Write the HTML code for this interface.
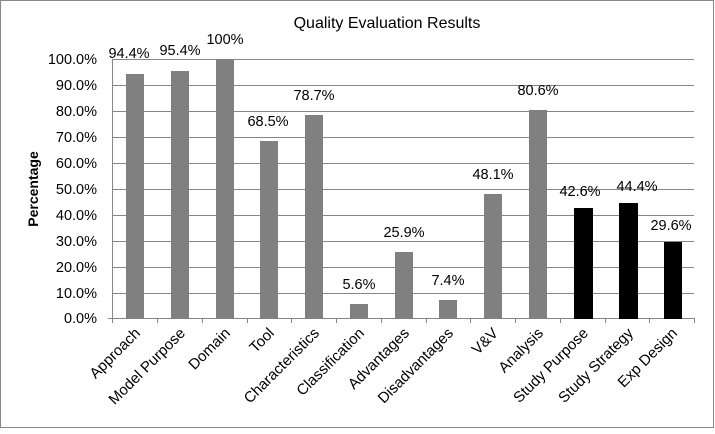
<!DOCTYPE html>
<html><head><style>body{margin:0;background:#fff}</style></head><body>
<svg width="715" height="429" xmlns="http://www.w3.org/2000/svg" font-family="Liberation Sans, sans-serif">
<rect x="0.5" y="0.5" width="713" height="427" fill="#fff" stroke="#888"/>
<text x="387" y="28" font-size="16" text-anchor="middle" fill="#000">Quality Evaluation Results</text>
<g stroke="#868686" stroke-width="1">
<line x1="112" y1="59.5" x2="694" y2="59.5"/>
<line x1="112" y1="85.5" x2="694" y2="85.5"/>
<line x1="112" y1="111.5" x2="694" y2="111.5"/>
<line x1="112" y1="137.5" x2="694" y2="137.5"/>
<line x1="112" y1="163.5" x2="694" y2="163.5"/>
<line x1="112" y1="189.5" x2="694" y2="189.5"/>
<line x1="112" y1="215.5" x2="694" y2="215.5"/>
<line x1="112" y1="241.5" x2="694" y2="241.5"/>
<line x1="112" y1="267.5" x2="694" y2="267.5"/>
<line x1="112" y1="293.5" x2="694" y2="293.5"/>
<line x1="112" y1="318.5" x2="694" y2="318.5"/>
<line x1="112.5" y1="59" x2="112.5" y2="323"/>
<line x1="108" y1="318.5" x2="112" y2="318.5"/>
</g>
<g stroke="#868686">
<line x1="157.5" y1="318" x2="157.5" y2="323"/><line x1="202.5" y1="318" x2="202.5" y2="323"/><line x1="247.5" y1="318" x2="247.5" y2="323"/><line x1="291.5" y1="318" x2="291.5" y2="323"/><line x1="336.5" y1="318" x2="336.5" y2="323"/><line x1="381.5" y1="318" x2="381.5" y2="323"/><line x1="426.5" y1="318" x2="426.5" y2="323"/><line x1="470.5" y1="318" x2="470.5" y2="323"/><line x1="515.5" y1="318" x2="515.5" y2="323"/><line x1="560.5" y1="318" x2="560.5" y2="323"/><line x1="605.5" y1="318" x2="605.5" y2="323"/><line x1="649.5" y1="318" x2="649.5" y2="323"/><line x1="694.5" y1="318" x2="694.5" y2="323"/>
</g>
<g font-size="14.5" text-anchor="end" fill="#000">
<text x="97" y="64">100.0%</text><text x="97" y="90">90.0%</text><text x="97" y="116">80.0%</text><text x="97" y="142">70.0%</text><text x="97" y="168">60.0%</text><text x="97" y="194">50.0%</text><text x="97" y="220">40.0%</text><text x="97" y="246">30.0%</text><text x="97" y="272">20.0%</text><text x="97" y="298">10.0%</text><text x="97" y="323">0.0%</text>
</g>
<text transform="translate(38,189) rotate(-90)" font-size="14" font-weight="bold" text-anchor="middle">Percentage</text>
<g fill="#808080">
<rect x="126" y="74" width="18" height="245"/>
<rect x="171" y="71" width="18" height="248"/>
<rect x="216" y="59" width="18" height="260"/>
<rect x="260" y="141" width="18" height="178"/>
<rect x="305" y="115" width="18" height="204"/>
<rect x="350" y="304" width="18" height="15"/>
<rect x="395" y="252" width="18" height="67"/>
<rect x="439" y="300" width="18" height="19"/>
<rect x="484" y="194" width="18" height="125"/>
<rect x="529" y="110" width="18" height="209"/>
</g>
<g fill="#000">
<rect x="574" y="208" width="19" height="111"/>
<rect x="619" y="203" width="19" height="116"/>
<rect x="664" y="242" width="18" height="77"/>
</g>
<g font-size="14.5" text-anchor="middle" fill="#000">
<text x="129" y="58">94.4%</text><text x="180" y="55">95.4%</text><text x="225" y="44">100%</text><text x="268" y="126">68.5%</text><text x="314" y="100">78.7%</text><text x="359" y="289">5.6%</text><text x="404" y="237">25.9%</text><text x="448" y="285">7.4%</text><text x="493" y="179">48.1%</text><text x="538" y="95">80.6%</text><text x="580" y="196">42.6%</text><text x="637" y="191">44.4%</text><text x="671" y="230">29.6%</text>
</g>
<g font-size="15" text-anchor="end" fill="#000">
<text transform="translate(141,334) rotate(-45)">Approach</text>
<text transform="translate(186,334) rotate(-45)">Model Purpose</text>
<text transform="translate(231,334) rotate(-45)">Domain</text>
<text transform="translate(275,334) rotate(-45)">Tool</text>
<text transform="translate(320,334) rotate(-45)">Characteristics</text>
<text transform="translate(365,334) rotate(-45)">Classification</text>
<text transform="translate(410,334) rotate(-45)">Advantages</text>
<text transform="translate(454,334) rotate(-45)">Disadvantages</text>
<text transform="translate(499,334) rotate(-45)">V&amp;V</text>
<text transform="translate(544,334) rotate(-45)">Analysis</text>
<text transform="translate(589,334) rotate(-45)">Study Purpose</text>
<text transform="translate(634,334) rotate(-45)">Study Strategy</text>
<text transform="translate(678,334) rotate(-45)">Exp Design</text>
</g>
</svg>
</body></html>
